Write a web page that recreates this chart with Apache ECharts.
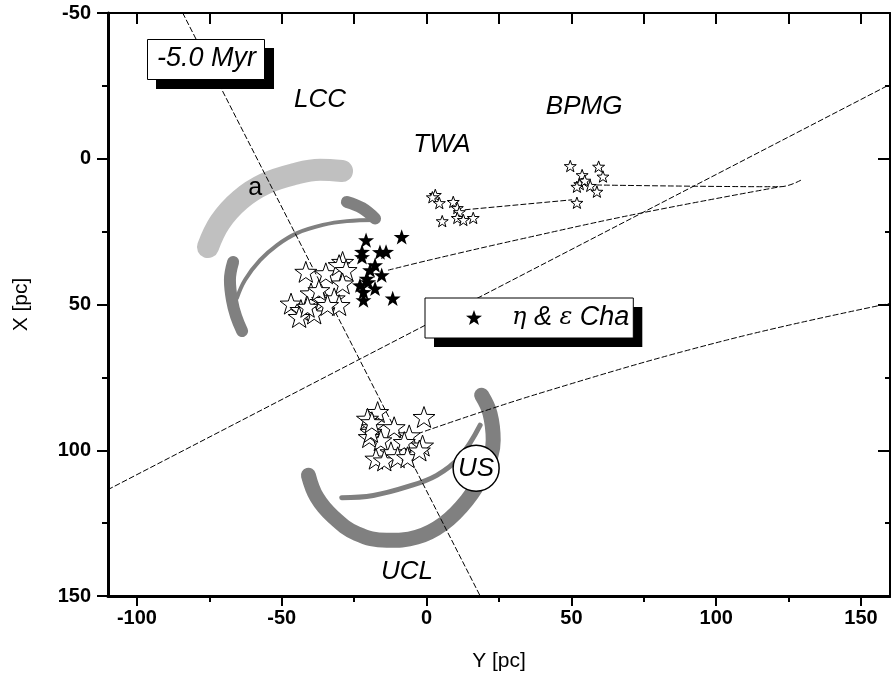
<!DOCTYPE html>
<html>
<head>
<meta charset="utf-8">
<script src="https://cdn.jsdelivr.net/npm/echarts@6/dist/echarts.min.js"></script>
<style>
html,body{margin:0;padding:0;background:#fff;}
#chart{width:891px;height:687px;}
</style>
</head>
<body>
<div id="chart"></div>
<script>
// ---- tick values ----
const xMajorTicks = [-100, -50, 0, 50, 100, 150];
const xMinorTicks = [-75, -25, 25, 75, 125];
const xTopTicks = [-100, -75, -50, -25, 0, 25, 50, 75, 100, 125, 150];

// ---- star groups: [Y, X] ----
const lccStars = [[-41.7,38.8],[-34.8,39.3],[-29.0,35.4],[-30.2,36.5],[-27.8,38.2],[-29.0,42.8],[-39.9,46.2],[-35.9,48.5],[-31.9,47.9],[-30.2,50.2],[-46.8,49.7],[-43.4,51.9],[-38.8,53.1],[-34.2,50.2],[-44.0,54.3],[-41.1,50.8],[-37.2,45.1]];
const uclStars = [[-16.9,86.9],[-20.4,89.2],[-18.6,92.1],[-11.2,92.1],[-19.8,95.5],[-15.8,96.6],[-6.0,94.9],[-7.7,97.2],[-1.4,98.4],[-12.3,100.7],[-17.5,102.9],[-14.6,103.5],[-10.0,102.4],[-6.6,102.4],[-2.5,100.1],[-0.9,88.6],[-19.2,93.7],[-18.9,90.4]];
const twaStars = [[3.0,12.4],[2.0,13.2],[4.4,15.2],[9.2,14.8],[10.6,16.9],[11.3,18.3],[5.4,21.4],[10.6,20.3],[12.7,21.0],[16.1,20.3]];
const bpmgStars = [[49.6,2.5],[53.7,5.6],[59.4,2.7],[60.9,6.1],[52.9,8.7],[56.5,9.3],[58.8,11.3],[51.9,9.6],[54.6,7.5],[51.9,15.1]];
const etaChaStars = [[-20.9,27.9],[-8.6,26.8],[-14.0,31.9],[-16.1,32.0],[-22.3,31.9],[-22.3,33.7],[-17.8,36.5],[-19.5,38.2],[-15.5,39.9],[-20.7,41.1],[-23.0,43.4],[-17.8,44.5],[-21.8,45.7],[-21.8,48.5],[-11.7,47.9],[-20.2,42.3]];

// ---- dashed trajectories: [Y, X] ----
const trackA = [[-84.2,-50],[18.5,150]];
const trackB = [[-110,113.5],[160,-25.5]];
const trackUCL = [[-3.0,94.3],[38.9,80.5],[103.6,62.2],[160,49.6]];
const trackEta = [[-13.2,38.2],[1.2,34.7],[32.3,27.6],[73.7,18.7],[122.1,9.6]];
const trackTWA = [[13.3,17.5],[50.1,14.1]];
const trackBPMG = [[58.7,9.0],[122.1,9.6],[129.9,7.0]];

// ---- grey rotation arcs: [Y, X] ----
const arcLight = [[-75.5,30.3],[-71.3,21.7],[-64.4,14.1],[-55.8,8.6],[-45.4,5.2],[-36.8,3.8],[-29.2,4.2]];
const arcLeft = [[-66.8,35.4],[-67.9,41.6],[-67.2,48.5],[-65.8,54.0],[-63.7,59.1]];
const arcBarb = [[-27.5,14.8],[-22.3,16.9],[-17.8,20.5]];
const arrowLCC = [[-65.5,47.8],[-62.7,41.6],[-57.5,34.8],[-51.6,29.6],[-44.7,25.5],[-35.8,22.7],[-27.5,21.4],[-17.8,21.0]];
const arcUCL = [[-40.8,108.6],[-37.9,116.1],[-32.2,122.9],[-24.1,128.6],[-13.8,130.9],[-3.4,129.8],[5.8,125.2],[13.9,117.2],[19.6,108.0],[23.0,96.6],[21.9,87.4],[19.0,81.1]];
const arrowUCL = [[-29.3,116.3],[-18.4,115.5],[-6.9,112.6],[3.5,108.6],[11.5,102.3],[18.5,91.4]];

// ---- text annotations ----
const groupNames = ['LCC', 'TWA', 'BPMG', 'UCL'];
const groupNamePos = [[-36.8,-20.2],[5.3,-4.8],[54.4,-17.8],[-6.8,141.6]];
const markA = {text: 'a', pos: [-59.2, 10.0]};
const usCircle = {text: 'US', pos: [17.1, 106.2]};
const epochText = '-5.0 Myr';
const legendName = 'η & ε Cha';

function starPath(inner) {
  let d = '';
  for (let i = 0; i < 10; i++) {
    const r = i % 2 ? inner : 1;
    const a = -Math.PI / 2 + i * Math.PI / 5;
    d += (i ? 'L' : 'M') + (50 + 50 * r * Math.cos(a)).toFixed(2) + ',' + (50 + 50 * r * Math.sin(a)).toFixed(2);
  }
  return 'path://' + d + 'Z';
}
const STAR = starPath(0.4);
const FONT = 'Liberation Sans, Arial, sans-serif';
const CLEAR = 'rgba(0,0,0,0)';

function curve(name, data, width, color, dashed, z) {
  return {
    name: name, type: 'line', data: data, smooth: data.length > 2 ? 0.4 : false,
    showSymbol: false, symbol: 'none', silent: true, z: z, clip: true,
    lineStyle: {width: width, color: color, cap: 'round', join: 'round', type: dashed ? [5, 3] : 'solid'}
  };
}
function stars(name, data, size, fill, border, z) {
  return {
    name: name, type: 'scatter', data: data, symbol: STAR, symbolSize: size, symbolKeepAspect: true, z: z,
    itemStyle: {color: fill, borderColor: '#000', borderWidth: border, opacity: 1}
  };
}

function titleBox(isShadow) {
  return {
    text: epochText, left: isShadow ? 156 : 147, top: isShadow ? 48 : 39, padding: [6, 9, 8, 10], z: isShadow ? 10 : 11,
    backgroundColor: isShadow ? '#000' : '#fff', borderColor: isShadow ? CLEAR : '#000', borderWidth: isShadow ? 0 : 1,
    textStyle: {fontFamily: FONT, fontStyle: 'italic', fontWeight: 'normal', fontSize: 27, color: isShadow ? CLEAR : '#000'}
  };
}
function legendBox(isShadow) {
  const c = isShadow ? CLEAR : '#000';
  return {
    left: isShadow ? 434 : 425, top: isShadow ? 307 : 298, orient: 'horizontal', padding: [6, 4, 7, 41],
    z: isShadow ? 10 : 11, selectedMode: false,
    backgroundColor: isShadow ? '#000' : '#fff', borderColor: isShadow ? CLEAR : '#000', borderWidth: isShadow ? 0 : 1,
    itemWidth: 16, itemHeight: 16,
    data: [{name: legendName, icon: STAR, itemStyle: {color: c, borderWidth: 0, opacity: 1}}],
    formatter: function () { return '{sp|}{g|η}{t| & }{g|ε}{t| Cha}'; },
    textStyle: {
      color: c,
      rich: {
        sp: {width: 25},
        g: {fontFamily: 'DejaVu Serif, serif', fontStyle: 'italic', fontSize: 24, color: c},
        t: {fontFamily: FONT, fontStyle: 'italic', fontSize: 27, color: c}
      }
    }
  };
}

const chart = echarts.init(document.getElementById('chart'), null, {renderer: 'canvas'});
const axisLabelStyle = {color: '#000', fontFamily: FONT, fontWeight: 'bold', fontSize: 20};
const nameStyle = {color: '#000', fontFamily: FONT, fontSize: 21};

chart.setOption({
  animation: false,
  backgroundColor: '#fff',
  grid: {left: 108, right: 1, top: 13, bottom: 91, containLabel: false},
  title: [titleBox(true), titleBox(false)],
  legend: [legendBox(true), legendBox(false)],
  xAxis: [
    {
      type: 'value', position: 'bottom', min: -110, max: 160,
      axisLine: {onZero: false, lineStyle: {color: '#000', width: 3}},
      axisTick: {show: true, inside: false, length: 10, customValues: xMajorTicks, lineStyle: {color: '#000', width: 2}},
      axisLabel: Object.assign({customValues: xMajorTicks, margin: 12}, axisLabelStyle),
      splitLine: {show: false},
      name: 'Y [pc]', nameLocation: 'middle', nameGap: 55, nameTextStyle: nameStyle
    },
    {
      type: 'value', position: 'bottom', min: -110, max: 160,
      axisLine: {show: false, onZero: false},
      axisTick: {show: true, inside: false, length: 6, customValues: xMinorTicks, lineStyle: {color: '#000', width: 2}},
      axisLabel: {show: false}, splitLine: {show: false}
    },
    {
      type: 'value', position: 'top', min: -110, max: 160,
      axisLine: {onZero: false, lineStyle: {color: '#000', width: 2}},
      axisTick: {show: true, inside: true, length: 11, customValues: xTopTicks, lineStyle: {color: '#000', width: 2}},
      axisLabel: {show: false}, splitLine: {show: false}
    }
  ],
  yAxis: [
    {
      type: 'value', position: 'left', inverse: true, min: -50, max: 150, interval: 50,
      axisLine: {onZero: false, lineStyle: {color: '#000', width: 3}},
      axisTick: {show: true, inside: false, length: 11, lineStyle: {color: '#000', width: 2}},
      minorTick: {show: true, splitNumber: 2, length: 6, lineStyle: {color: '#000', width: 2}},
      axisLabel: Object.assign({margin: 17}, axisLabelStyle),
      splitLine: {show: false},
      name: 'X [pc]', nameLocation: 'middle', nameGap: 76, nameRotate: 90, nameTextStyle: nameStyle
    },
    {
      type: 'value', position: 'right', inverse: true, min: -50, max: 150, interval: 50,
      axisLine: {onZero: false, lineStyle: {color: '#000', width: 2}},
      axisTick: {show: true, inside: true, length: 12, lineStyle: {color: '#000', width: 2}},
      minorTick: {show: true, splitNumber: 2, length: 5, lineStyle: {color: '#000', width: 2}},
      axisLabel: {show: false}, splitLine: {show: false}
    }
  ],
  series: [
    curve('arcLight', arcLight, 22, '#c0c0c0', false, 1),
    curve('arcLeft', arcLeft, 12, '#808080', false, 1),
    curve('arcBarb', arcBarb, 12, '#808080', false, 1),
    curve('arrowLCC', arrowLCC, 4, '#808080', false, 1),
    curve('arcUCL', arcUCL, 15, '#808080', false, 1),
    curve('arrowUCL', arrowUCL, 5, '#808080', false, 1),
    curve('trackA', trackA, 1, '#000', true, 2),
    curve('trackB', trackB, 1, '#000', true, 2),
    curve('trackUCL', trackUCL, 1, '#000', true, 2),
    curve('trackEta', trackEta, 1, '#000', true, 2),
    curve('trackTWA', trackTWA, 1, '#000', true, 2),
    curve('trackBPMG', trackBPMG, 1, '#000', true, 2),
    stars('LCC', lccStars, 22, '#fff', 1, 3),
    stars('UCL', uclStars, 22, '#fff', 1, 3),
    stars('TWA', twaStars, 12, '#fff', 1, 3),
    stars('BPMG', bpmgStars, 12, '#fff', 1, 3),
    stars(legendName, etaChaStars, 16, '#000', 0, 3),
    {
      name: 'US', type: 'scatter', z: 4, symbol: 'circle', symbolSize: 46,
      itemStyle: {color: '#fff', borderColor: '#000', borderWidth: 1.5, opacity: 1},
      data: [{value: usCircle.pos, name: usCircle.text}],
      label: {show: true, position: 'inside', formatter: '{b}', fontFamily: FONT, fontStyle: 'italic', fontSize: 26, color: '#000', opacity: 1}
    },
    {
      name: 'names', type: 'scatter', z: 5, symbolSize: 1, silent: true,
      itemStyle: {color: CLEAR, opacity: 1},
      data: groupNames.map((n, i) => ({value: groupNamePos[i], name: n})).concat([{value: markA.pos, name: markA.text, label: {fontStyle: 'normal', fontSize: 25}}]),
      label: {show: true, position: 'inside', formatter: '{b}', fontFamily: FONT, fontStyle: 'italic', fontSize: 26, color: '#000', opacity: 1}
    }
  ]
});
</script>
</body>
</html>
